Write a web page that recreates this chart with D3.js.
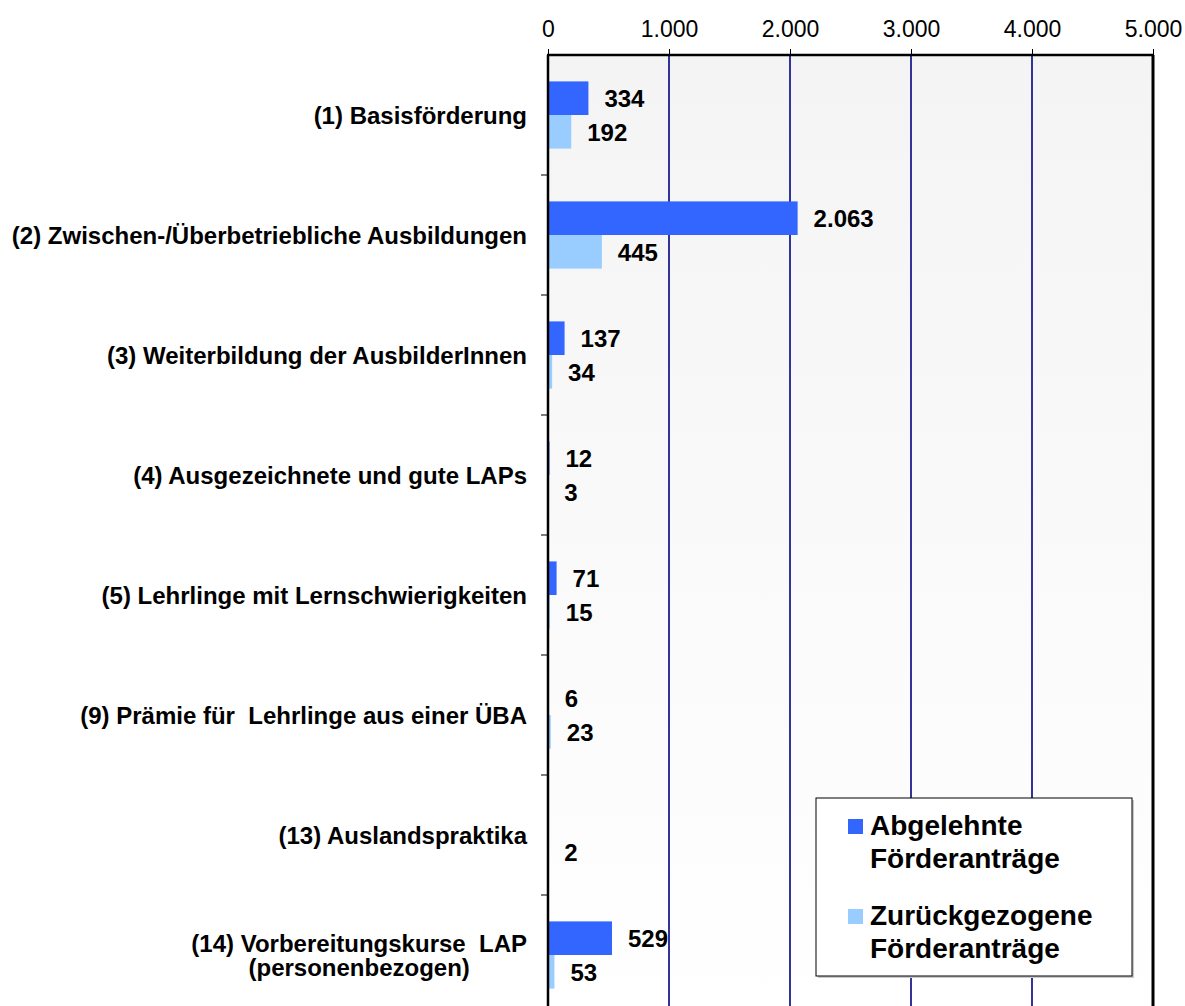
<!DOCTYPE html>
<html>
<head>
<meta charset="utf-8">
<script src="https://cdn.jsdelivr.net/npm/d3@7"></script>
<style>
  body { margin: 0; background: #fff; }
  text { font-family: "Liberation Sans", Arial, sans-serif; }
</style>
</head>
<body>
<script>
var width = 1185, height = 1006;

// data
var categories = [
  ["(1) Basisförderung"],
  ["(2) Zwischen-/Überbetriebliche Ausbildungen"],
  ["(3) Weiterbildung der AusbilderInnen"],
  ["(4) Ausgezeichnete und gute LAPs"],
  ["(5) Lehrlinge mit Lernschwierigkeiten"],
  ["(9) Prämie für  Lehrlinge aus einer ÜBA"],
  ["(13) Auslandspraktika"],
  ["(14) Vorbereitungskurse  LAP", "(personenbezogen)"]
];
var abgelehnt = [334, 2063, 137, 12, 71, 6, null, 529];
var zurueck = [192, 445, 34, 3, 15, 23, 2, 53];
var seriesNames = [["Abgelehnte", "Förderanträge"], ["Zurückgezogene", "Förderanträge"]];
var seriesColors = ["#3366ff", "#99ccff"];
var xTicks = [0, 1000, 2000, 3000, 4000, 5000];

var de = d3.formatLocale({decimal: ",", thousands: ".", grouping: [3], currency: ["", " €"]});
var fmt = de.format(",d");

var plotLeft = 548, plotRight = 1153, plotTop = 55;

var svg = d3.select("body").append("svg")
    .attr("width", width)
    .attr("height", height);

var x = d3.scaleLinear().domain([0, 5000]).range([plotLeft, plotRight]);
var idx = d3.range(categories.length);
var y = d3.scaleBand().domain(idx).range([plotTop, plotTop + 120 * categories.length])
    .paddingInner(0.44).paddingOuter(0.22);
var ySub = d3.scaleBand().domain([0, 1]).range([0, y.bandwidth()]);

// plot background, fading to white
var grad = svg.append("defs").append("linearGradient")
    .attr("id", "bg").attr("x1", 0).attr("y1", 0).attr("x2", 0).attr("y2", 1);
grad.append("stop").attr("offset", "0%").attr("stop-color", "#f4f4f4");
grad.append("stop").attr("offset", "100%").attr("stop-color", "#ffffff");

svg.append("rect")
    .attr("x", plotLeft).attr("y", plotTop)
    .attr("width", plotRight - plotLeft).attr("height", 120 * categories.length)
    .attr("fill", "url(#bg)");

// grid lines
svg.selectAll(".grid")
    .data(xTicks.slice(1, -1))
  .enter().append("line")
    .attr("x1", function(d) { return x(d); })
    .attr("x2", function(d) { return x(d); })
    .attr("y1", plotTop).attr("y2", height + 20)
    .attr("stroke", "#333399")
    .attr("stroke-width", 2);

// bars
var series = [abgelehnt, zurueck];
series.forEach(function(vals, s) {
  svg.selectAll(".bar" + s)
      .data(idx.filter(function(i) { return vals[i] != null; }))
    .enter().append("rect")
      .attr("x", x(0))
      .attr("y", function(i) { return y(i) + ySub(s); })
      .attr("width", function(i) { return x(vals[i]) - x(0); })
      .attr("height", ySub.bandwidth())
      .attr("fill", seriesColors[s]);

  svg.selectAll(".lab" + s)
      .data(idx.filter(function(i) { return vals[i] != null; }))
    .enter().append("text")
      .attr("x", function(i) { return x(vals[i]) + 16; })
      .attr("y", function(i) { return y(i) + ySub(s) + ySub.bandwidth() / 2; })
      .attr("dy", "0.38em")
      .attr("font-size", 24)
      .attr("font-weight", "bold")
      .text(function(i) { return fmt(vals[i]); });
});

// top axis
var xAxis = d3.axisTop(x).tickValues(xTicks).tickFormat(fmt).tickSize(6).tickPadding(12);
var ax = svg.append("g").attr("transform", "translate(0," + plotTop + ")").call(xAxis);
ax.select(".domain").remove();
ax.selectAll("text").attr("font-size", 23).attr("fill", "#000").style("font-family", "Liberation Sans, Arial, sans-serif");
ax.selectAll("line").attr("stroke", "#000").attr("stroke-width", 1);

svg.append("line")
    .attr("x1", plotLeft - 1).attr("x2", plotRight + 1)
    .attr("y1", plotTop).attr("y2", plotTop)
    .attr("stroke", "#000").attr("stroke-width", 2.5);
svg.append("line")
    .attr("x1", plotLeft).attr("x2", plotLeft)
    .attr("y1", plotTop).attr("y2", height + 20)
    .attr("stroke", "#000").attr("stroke-width", 2.5);
svg.append("line")
    .attr("x1", plotRight).attr("x2", plotRight)
    .attr("y1", plotTop).attr("y2", height + 20)
    .attr("stroke", "#000").attr("stroke-width", 3);

// category separator ticks on the left axis
svg.selectAll(".ytick")
    .data(idx.slice(1))
  .enter().append("line")
    .attr("x1", plotLeft - 7).attr("x2", plotLeft)
    .attr("y1", function(i) { return y(i) - y.step() * y.paddingInner() / 2; })
    .attr("y2", function(i) { return y(i) - y.step() * y.paddingInner() / 2; })
    .attr("stroke", "#000").attr("stroke-width", 1);

// category labels
idx.forEach(function(i) {
  var lines = categories[i];
  var cy = y(i) + y.bandwidth() / 2;
  var lh = 24;
  var g = svg.append("g");
  var first = null;
  lines.forEach(function(t, k) {
    var el = g.append("text")
        .attr("xml:space", "preserve")
        .style("white-space", "pre")
        .attr("font-size", 24)
        .attr("font-weight", "bold")
        .attr("y", cy + (k - (lines.length - 1) / 2) * lh)
        .attr("dy", "0.36em")
        .text(t);
    if (k === 0) {
      el.attr("x", 527).attr("text-anchor", "end");
      first = el.node().getComputedTextLength();
    } else {
      el.attr("x", 527 - first / 2).attr("text-anchor", "middle");
    }
  });
});

// legend
var lg = svg.append("g").attr("transform", "translate(816,798)");
lg.append("rect").attr("x", 2).attr("y", 2).attr("width", 316).attr("height", 178).attr("fill", "#c8c8c8");
lg.append("rect").attr("width", 316).attr("height", 178).attr("fill", "#fff").attr("stroke", "#000").attr("stroke-width", 1);
seriesNames.forEach(function(names, s) {
  var by = 37 + s * 90;
  lg.append("rect")
      .attr("x", 32).attr("y", by - 16)
      .attr("width", 15).attr("height", 15)
      .attr("fill", seriesColors[s]);
  names.forEach(function(t, k) {
    lg.append("text")
        .attr("x", 54).attr("y", by + k * 33)
        .attr("font-size", 28)
        .attr("font-weight", "bold")
        .text(t);
  });
});
</script>
</body>
</html>
